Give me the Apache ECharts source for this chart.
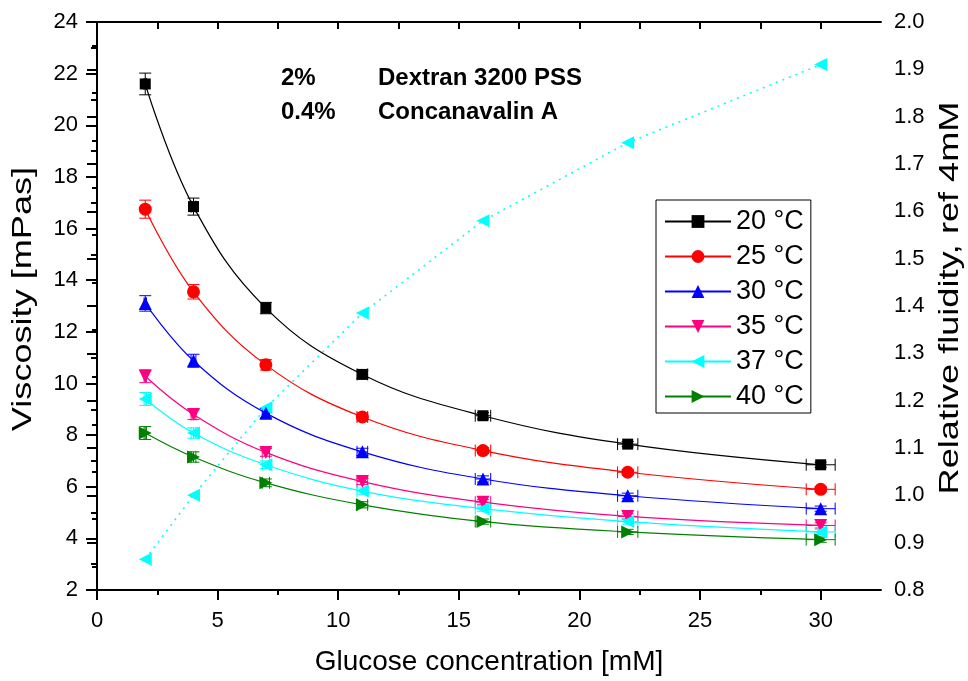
<!DOCTYPE html>
<html>
<head>
<meta charset="utf-8">
<script src="https://cdn.jsdelivr.net/npm/echarts@6/dist/echarts.min.js"></script>
<style>
    html, body { margin: 0; padding: 0; background: #fff; }
    #chart { width: 968px; height: 681px; }
</style>
</head>
<body>
<div id="chart"></div>
<script>
    // glucose concentration [mM]
    let glucose = [2, 4, 7, 11, 16, 22, 30];

    // viscosity [mPas] per temperature
    let visc20 = [21.6, 16.85, 12.92, 10.35, 8.75, 7.65, 6.85];
    let visc25 = [16.75, 13.55, 10.72, 8.7, 7.4, 6.56, 5.9];
    let visc30 = [13.1, 10.88, 8.85, 7.35, 6.3, 5.65, 5.15];
    let visc35 = [10.28, 8.8, 7.33, 6.2, 5.4, 4.85, 4.5];
    let visc37 = [9.4, 8.08, 6.85, 5.83, 5.15, 4.65, 4.25];
    let visc40 = [8.08, 7.15, 6.15, 5.3, 4.65, 4.25, 3.95];

    // error bars
    let yErr20 = [0.42, 0.33, 0.22, 0.16, 0.12, 0.1, 0.1];
    let yErr25 = [0.35, 0.28, 0.2, 0.15, 0.12, 0.1, 0.1];
    let yErr30 = [0.3, 0.25, 0.18, 0.14, 0.12, 0.1, 0.1];
    let yErrLow = [0.25, 0.2, 0.15, 0.12, 0.1, 0.1, 0.1];
    let xErr = [0.05, 0.1, 0.15, 0.22, 0.32, 0.42, 0.6];

    // relative fluidity, ref 4mM (right axis)
    let fluidity = [0.865, 1.0, 1.185, 1.385, 1.58, 1.745, 1.91];

    let seriesNames = ['20 °C', '25 °C', '30 °C', '35 °C', '37 °C', '40 °C'];

    // tick labels
    let xMajorTicks = [0, 5, 10, 15, 20, 25, 30];
    let xMinorTicks = [2.5, 7.5, 12.5, 17.5, 22.5, 27.5];
    let xTopTicks = [2.5, 5, 7.5, 10, 12.5, 15, 17.5, 20, 22.5, 25, 27.5, 30];

    let font = 'Liberation Sans, Arial, sans-serif';
    let chart = echarts.init(document.getElementById('chart'));

    let groups = [
        {name: seriesNames[0], y: visc20, err: yErr20, color: '#000000', symbol: 'rect', size: 11, rotate: 0},
        {name: seriesNames[1], y: visc25, err: yErr25, color: '#ff0000', symbol: 'circle', size: 13, rotate: 0},
        {name: seriesNames[2], y: visc30, err: yErr30, color: '#0000ff', symbol: 'triangle', size: 13, rotate: 0},
        {name: seriesNames[3], y: visc35, err: yErrLow, color: '#ff0080', symbol: 'triangle', size: 13, rotate: 180},
        {name: seriesNames[4], y: visc37, err: yErrLow, color: '#00ffff', symbol: 'triangle', size: 13, rotate: 90},
        {name: seriesNames[5], y: visc40, err: yErrLow, color: '#008000', symbol: 'triangle', size: 13, rotate: -90}
    ];

    let series = [];

    groups.forEach((g)=> {
        let errData = glucose.map((x, i)=> [x, g.y[i], g.err[i], xErr[i]]);
        series.push({
            name: g.name + ' err',
            type: 'custom',
            xAxisIndex: 0,
            yAxisIndex: 0,
            z: 1,
            silent: true,
            data: errData,
            renderItem: function (params, api) {
                let x = api.value(0), y = api.value(1), ey = api.value(2), ex = api.value(3);
                let top = api.coord([x, y + ey]);
                let bot = api.coord([x, y - ey]);
                let lft = api.coord([x - ex, y]);
                let rgt = api.coord([x + ex, y]);
                let style = {stroke: g.color, lineWidth: 1};
                let cw = 6, ch = 6;
                return {
                    type: 'group',
                    children: [
                        {type: 'line', shape: {x1: top[0], y1: top[1], x2: bot[0], y2: bot[1]}, style: style},
                        {type: 'line', shape: {x1: top[0] - cw, y1: top[1], x2: top[0] + cw, y2: top[1]}, style: style},
                        {type: 'line', shape: {x1: bot[0] - cw, y1: bot[1], x2: bot[0] + cw, y2: bot[1]}, style: style},
                        {type: 'line', shape: {x1: lft[0], y1: lft[1], x2: rgt[0], y2: rgt[1]}, style: style},
                        {type: 'line', shape: {x1: lft[0], y1: lft[1] - ch, x2: lft[0], y2: lft[1] + ch}, style: style},
                        {type: 'line', shape: {x1: rgt[0], y1: rgt[1] - ch, x2: rgt[0], y2: rgt[1] + ch}, style: style}
                    ]
                };
            }
        });
        series.push({
            name: g.name,
            type: 'line',
            xAxisIndex: 0,
            yAxisIndex: 0,
            z: 3,
            data: glucose.map((x, i)=> [x, g.y[i]]),
            smooth: 0.4,
            symbol: g.symbol,
            symbolSize: g.size,
            symbolRotate: g.rotate,
            itemStyle: {color: g.color},
            lineStyle: {color: g.color, width: 1.2}
        });
    });

    series.push({
        name: 'fluidity',
        type: 'line',
        xAxisIndex: 0,
        yAxisIndex: 1,
        z: 2,
        data: glucose.map((x, i)=> [x, fluidity[i]]),
        symbol: 'triangle',
        symbolSize: 13,
        symbolRotate: 90,
        itemStyle: {color: '#00ffff'},
        lineStyle: {color: '#00ffff', width: 1.6, type: [2, 5]}
    });

    let axisLine = {show: true, lineStyle: {color: '#000', width: 2}};
    let bold = {fontFamily: font, fontSize: 24, fontWeight: 'bold', color: '#000'};

    let option = {
        animation: false,
        backgroundColor: '#fff',
        textStyle: {fontFamily: font},
        grid: {left: 97, right: 87, top: 22, bottom: 89, containLabel: false},
        legend: {
            data: seriesNames,
            orient: 'vertical',
            left: 656,
            top: 200,
            padding: [8, 7, 3, 8],
            itemGap: 8,
            itemWidth: 66,
            itemHeight: 16,
            borderColor: '#000',
            borderWidth: 1,
            textStyle: {fontFamily: font, fontSize: 27, color: '#000'}
        },
        title: [
            {text: '2%', left: 276, top: 61, textStyle: bold},
            {text: 'Dextran 3200 PSS', left: 373, top: 61, textStyle: bold},
            {text: '0.4%', left: 276, top: 95, textStyle: bold},
            {text: 'Concanavalin A', left: 373, top: 95, textStyle: bold}
        ],
        graphic: [
            // axis titles stretched along their reading direction like the original
            {type: 'text', x: 23, y: 299, rotation: Math.PI / 2, scaleX: 1.29,
                style: {text: 'Viscosity [mPas]', font: '28px ' + font, fill: '#000', align: 'center', verticalAlign: 'middle'}},
            {type: 'text', x: 950, y: 298, rotation: Math.PI / 2, scaleX: 1.29,
                style: {text: 'Relative fluidity, ref 4mM', font: '28px ' + font, fill: '#000', align: 'center', verticalAlign: 'middle'}}
        ],
        xAxis: [{
            type: 'value',
            position: 'bottom',
            min: 0,
            max: 32.5,
            interval: 5,
            name: 'Glucose concentration [mM]',
            nameLocation: 'middle',
            nameGap: 58,
            nameTextStyle: {fontFamily: font, fontSize: 28, color: '#000'},
            axisLine: axisLine,
            axisTick: {show: true, length: 10, lineStyle: {width: 2, color: '#000'}, customValues: xMajorTicks},
            axisLabel: {fontFamily: font, fontSize: 22, color: '#000', margin: 20, customValues: xMajorTicks},
            splitLine: {show: false}
        }, {
            type: 'value',
            position: 'bottom',
            min: 0,
            max: 32.5,
            interval: 2.5,
            axisLine: {show: false},
            axisTick: {show: true, length: 5, lineStyle: {width: 2, color: '#000'}, customValues: xMinorTicks},
            axisLabel: {show: false},
            splitLine: {show: false}
        }, {
            type: 'value',
            position: 'top',
            min: 0,
            max: 32.5,
            interval: 2.5,
            axisLine: axisLine,
            axisTick: {show: true, inside: true, length: 7, lineStyle: {width: 2, color: '#000'}, customValues: xTopTicks},
            axisLabel: {show: false},
            splitLine: {show: false}
        }],
        yAxis: [{
            type: 'value',
            position: 'left',
            min: 2,
            max: 24,
            interval: 2,
            axisLine: axisLine,
            axisTick: {show: true, length: 11, lineStyle: {width: 2, color: '#000'}},
            minorTick: {show: true, splitNumber: 2, length: 6, lineStyle: {width: 2, color: '#000'}},
            axisLabel: {fontFamily: font, fontSize: 22, color: '#000', margin: 19},
            splitLine: {show: false},
            minorSplitLine: {show: false}
        }, {
            type: 'value',
            position: 'right',
            min: 0.8,
            max: 2.0,
            interval: 0.1,
            axisLine: axisLine,
            axisTick: {show: true, inside: true, length: 10, lineStyle: {width: 2, color: '#000'}},
            minorTick: {show: true, splitNumber: 2, length: 5, lineStyle: {width: 2, color: '#000'}},
            axisLabel: {fontFamily: font, fontSize: 22, color: '#000', margin: 13, formatter: (v)=> v.toFixed(1)},
            splitLine: {show: false},
            minorSplitLine: {show: false}
        }],
        series: series
    };

    chart.setOption(option);
</script>
</body>
</html>
